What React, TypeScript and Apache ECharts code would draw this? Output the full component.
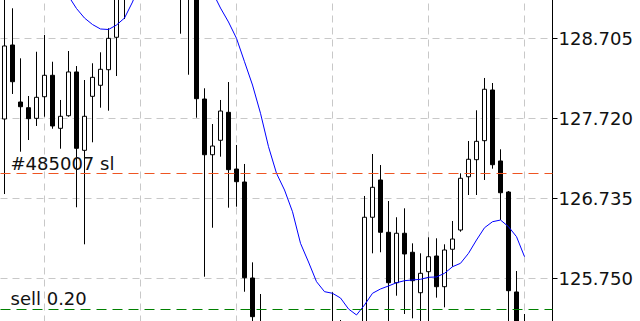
import React, { useEffect, useRef } from "react";
import * as echarts from "echarts";

// Bar (candle) values, price units
const OPEN = [
  127.714, 128.625, 127.923, 127.853, 127.722, 127.988, 128.252, 127.599, 127.754, 128.293,
  127.328, 127.993, 128.129, 128.321, 128.72, 129.35, 129.7, 129.55, 129.9, 130.2,
  129.95, 129.6, 129.4, 129.3, 129.25, 127.96, 127.274, 127.452, 127.796, 127.098,
  126.938, 125.756, 125.18, 125.05, 124.9, 125.0, 124.85, 124.95, 124.8, 124.9,
  124.85, 124.95, 125.1, 125.0, 125.05, 125.15, 126.504, 126.963, 126.319, 125.698,
  126.307, 126.073, 125.575, 125.834, 126.027, 125.649, 126.11, 126.347, 127.003, 127.213,
  127.447, 128.071, 127.197, 126.815, 125.584, 125.15,
];
const CLOSE = [
  128.613, 128.173, 127.865, 127.718, 127.981, 128.252, 127.628, 127.747, 128.293, 127.353,
  127.747, 128.227, 128.326, 128.707, 129.35, 129.7, 129.55, 129.9, 130.2, 129.95,
  129.6, 129.4, 129.3, 129.25, 127.964, 127.274, 127.381, 127.812, 127.09, 126.942,
  125.76, 125.28, 125.05, 124.9, 125.0, 124.85, 124.95, 124.8, 124.9, 124.85,
  124.95, 125.1, 125.0, 125.05, 125.12, 126.504, 126.873, 126.319, 125.698, 126.307,
  126.052, 125.723, 125.814, 126.018, 125.649, 126.101, 126.236, 126.984, 127.218, 127.439,
  128.08, 127.151, 126.806, 125.6, 125.1, 125.05,
];
const LOW = [
  126.79, 128.022, 127.311, 127.455, 127.628, 127.742, 127.594, 127.348, 127.742, 126.627,
  126.171, 127.427, 127.853, 127.816, 128.243, 128.945, 129.3, 129.4, 129.75, 129.8,
  129.45, 129.25, 128.764, 128.259, 127.73, 125.772, 126.375, 127.25, 126.622, 126.634,
  125.587, 125.2, 124.95, 124.8, 124.75, 124.7, 124.72, 124.7, 124.65, 124.7,
  124.75, 124.85, 124.88, 124.9, 124.95, 125.05, 126.06, 126.073, 125.18, 125.538,
  125.313, 125.26, 125.2, 125.2, 125.514, 125.395, 125.895, 126.326, 126.778, 126.778,
  126.963, 127.102, 126.47, 125.15, 125.0, 124.95,
];
const HIGH = [
  129.25, 129.077, 128.461, 127.997, 128.542, 128.748, 128.419, 127.948, 128.551, 128.366,
  128.194, 128.4, 128.535, 128.831, 129.45, 129.85, 129.9, 130.05, 130.35, 130.4,
  130.1, 129.8, 129.6, 129.5, 129.35, 128.092, 127.652, 127.948, 128.169, 127.394,
  127.16, 125.949, 125.559, 125.15, 125.1, 125.12, 125.05, 125.08, 125.02, 125.0,
  125.1, 125.58, 125.239, 125.15, 125.2, 126.766, 127.283, 127.147, 126.704, 126.504,
  126.614, 126.183, 126.06, 126.257, 126.245, 126.171, 126.458, 127.045, 127.443, 127.821,
  128.219, 128.157, 127.341, 126.827, 125.842, 125.313,
];
// Moving average
const MA = [
  129.6, 129.58, 129.55, 129.5, 129.45, 129.4, 129.35, 129.28, 129.228, 129.074,
  128.957, 128.877, 128.822, 128.816, 128.871, 128.957, 129.154, 129.4, 129.6, 129.75,
  129.85, 129.85, 129.75, 129.6, 129.45, 129.3, 129.278, 129.08, 128.908, 128.707,
  128.419, 128.132, 127.784, 127.373, 127.045, 126.84, 126.572, 126.183, 125.953, 125.711,
  125.588, 125.568, 125.51, 125.375, 125.301, 125.424, 125.568, 125.621, 125.658, 125.698,
  125.723, 125.732, 125.74, 125.765, 125.769, 125.814, 125.895, 125.937, 126.06, 126.224,
  126.375, 126.449, 126.47, 126.388, 126.265, 126.019,
];
const BAR_SLOTS = 69; // includes empty chart shift on the right
const CATEGORIES = Array.from({ length: BAR_SLOTS }, (_, i) => "b" + i);
const V_GRID_BARS = ["b5", "b17", "b29", "b41", "b53", "b65"];
const TICK_BASE = 125.75;
const TICK_STEP = 0.985;
const SL_LEVEL = 127.045;
const SELL_LEVEL = 125.366;
const SL_LABEL = "#485007 sl";
const SELL_LABEL = "sell 0.20";

export default function App() {
  const ref = useRef<HTMLDivElement>(null);
  useEffect(() => {
    if (!ref.current) return;
    const chart = echarts.init(ref.current, null, { renderer: "svg" });
    const font = '"DejaVu Sans", sans-serif';
    const candles = OPEN.map((o, i) => [
      o - TICK_BASE,
      CLOSE[i] - TICK_BASE,
      LOW[i] - TICK_BASE,
      HIGH[i] - TICK_BASE,
    ]);
    const ma = MA.map((v) => v - TICK_BASE);
    chart.setOption({
      animation: false,
      backgroundColor: "#ffffff",
      grid: {
        left: 0.5,
        right: 87.5,
        top: -41.5,
        bottom: -37.5,
        containLabel: false,
        outerBoundsMode: "none",
      },
      xAxis: {
        type: "category",
        data: CATEGORIES,
        boundaryGap: true,
        show: false,
      },
      yAxis: {
        type: "value",
        position: "right",
        min: -TICK_STEP,
        max: TICK_STEP * 4,
        interval: TICK_STEP,
        axisLine: { show: true, lineStyle: { color: "#000", width: 1 } },
        axisTick: { show: true, length: 5, lineStyle: { color: "#000" } },
        axisLabel: {
          margin: 6,
          color: "#111",
          fontFamily: font,
          fontSize: 18,
          showMinLabel: false,
          showMaxLabel: false,
          formatter: (v: number) => (v + TICK_BASE).toFixed(3),
        },
        splitLine: {
          show: true,
          lineStyle: { color: "#c8c8c8", width: 1, type: [7, 5] },
        },
      },
      series: [
        {
          type: "candlestick",
          data: candles,
          barWidth: 4,
          itemStyle: {
            color: "#ffffff",
            color0: "#000000",
            borderColor: "#000000",
            borderColor0: "#000000",
            borderWidth: 1,
          },
          markLine: {
            silent: true,
            symbol: "none",
            label: { show: false },
            lineStyle: { color: "#c8c8c8", width: 1, type: [7, 5] },
            data: V_GRID_BARS.map((b) => ({ xAxis: b })),
            z: 0,
          },
          z: 3,
        },
        {
          type: "line",
          data: ma,
          symbol: "none",
          smooth: false,
          lineStyle: { color: "#0000ff", width: 1 },
          z: 4,
          markLine: {
            silent: true,
            symbol: "none",
            label: { show: false },
            data: [
              { yAxis: SL_LEVEL - TICK_BASE, lineStyle: { color: "#ee5522", width: 1, type: [10, 6] } },
              { yAxis: SELL_LEVEL - TICK_BASE, lineStyle: { color: "#008000", width: 1, type: [10, 6] } },
            ],
          },
        },
      ],
      graphic: [
        {
          type: "text",
          x: 10.5,
          y: 163.5,
          style: { text: SL_LABEL, fill: "#111", fontFamily: font, fontSize: 18, verticalAlign: "middle" },
          z: 10,
        },
        {
          type: "text",
          x: 10.5,
          y: 298.5,
          style: { text: SELL_LABEL, fill: "#111", fontFamily: font, fontSize: 18, verticalAlign: "middle" },
          z: 10,
        },
      ],
    });
    return () => chart.dispose();
  }, []);
  return (
    <div
      ref={ref}
      style={{ position: "absolute", left: 0, top: 0, width: 640, height: 321, background: "#fff" }}
    />
  );
}
